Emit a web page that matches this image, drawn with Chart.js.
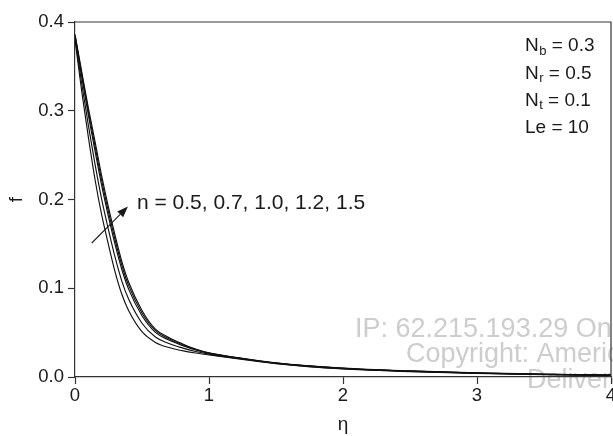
<!DOCTYPE html>
<html>
<head>
<meta charset="utf-8">
<script src="https://cdn.jsdelivr.net/npm/chart.js@4"></script>
<style>
html,body{margin:0;padding:0;background:#fff;}
#wrap{width:613px;height:436px;position:relative;}
</style>
</head>
<body>
<div id="wrap"><canvas id="c" width="613" height="436"></canvas></div>
<script>
// ---- data ----
const eta   = [0, 0.05, 0.1, 0.15, 0.2, 0.25, 0.3, 0.35, 0.4, 0.5, 0.6, 0.7, 0.8, 0.9, 1.0, 1.25, 1.5, 2.0, 2.5, 3.0, 3.5, 4.0];
const f_n05 = [0.3800, 0.3220, 0.2700, 0.2220, 0.1820, 0.1490, 0.1180, 0.0930, 0.0750, 0.0510, 0.0390, 0.0332, 0.0297, 0.0270, 0.0248, 0.0198, 0.0150, 0.0090, 0.0061, 0.0040, 0.0027, 0.0018];
const f_n07 = [0.3824, 0.3308, 0.2832, 0.2392, 0.1996, 0.1658, 0.1344, 0.1078, 0.0878, 0.0606, 0.0450, 0.0377, 0.0328, 0.0288, 0.0258, 0.0202, 0.0153, 0.0093, 0.0063, 0.0042, 0.0028, 0.0019];
const f_n10 = [0.3845, 0.3385, 0.2948, 0.2543, 0.2150, 0.1805, 0.1488, 0.1208, 0.0990, 0.0690, 0.0503, 0.0417, 0.0356, 0.0304, 0.0266, 0.0206, 0.0156, 0.0097, 0.0066, 0.0044, 0.0030, 0.0020];
const f_n12 = [0.3853, 0.3414, 0.2990, 0.2598, 0.2207, 0.1860, 0.1541, 0.1256, 0.1032, 0.0721, 0.0522, 0.0431, 0.0366, 0.0310, 0.0269, 0.0208, 0.0158, 0.0099, 0.0067, 0.0045, 0.0031, 0.0021];
const f_n15 = [0.3860, 0.3440, 0.3030, 0.2650, 0.2260, 0.1910, 0.1590, 0.1300, 0.1070, 0.0750, 0.0540, 0.0445, 0.0375, 0.0315, 0.0272, 0.0210, 0.0160, 0.0101, 0.0069, 0.0047, 0.0032, 0.0022];
const seriesNames  = ['n = 0.5', 'n = 0.7', 'n = 1.0', 'n = 1.2', 'n = 1.5'];
const seriesValues = [f_n05, f_n07, f_n10, f_n12, f_n15];
const xTicks = [0, 1, 2, 3, 4];
const yTicks = [0.0, 0.1, 0.2, 0.3, 0.4];
const annotationText = 'n = 0.5, 0.7, 1.0, 1.2, 1.5';
const paramLabels = [['N', 'b', ' = 0.3'], ['N', 'r', ' = 0.5'], ['N', 't', ' = 0.1'], ['Le', '', ' = 10']];
const watermark = ['IP: 62.215.193.29 On: Tue, 01 Jan', 'Copyright: American Scientific Publishers', 'Delivered by Ingenta'];

const FONT = '"Liberation Sans", Arial, Helvetica, sans-serif';
const INK = '#1a1a1a';

const datasets = seriesValues.map((vals, i) => ({
  label: seriesNames[i],
  data: eta.map((x, j) => ({x: x, y: vals[j]})),
  borderColor: '#111',
  borderWidth: 1.15,
  pointRadius: 0,
  fill: false,
  cubicInterpolationMode: 'monotone'
}));

const decor = {
  id: 'decor',
  beforeDraw(chart) {
    const ctx = chart.ctx;
    ctx.save();
    ctx.fillStyle = '#fff';
    ctx.fillRect(0, 0, chart.width, chart.height);
    ctx.font = '27px ' + FONT;
    ctx.fillStyle = '#cdcdcd';
    ctx.textBaseline = 'middle';
    ctx.textAlign = 'left';
    ctx.fillText(watermark[0], 355, 330);
    ctx.fillText(watermark[1], 406, 355);
    ctx.fillText(watermark[2], 527, 381);
    ctx.restore();
  },
  afterDraw(chart) {
    const ctx = chart.ctx, a = chart.chartArea;
    const xs = chart.scales.x, ys = chart.scales.y;
    ctx.save();
    // box
    ctx.strokeStyle = '#333';
    ctx.lineWidth = 1.2;
    ctx.beginPath();
    ctx.moveTo(a.left, a.top); ctx.lineTo(a.right, a.top); ctx.lineTo(a.right, a.bottom);
    ctx.stroke();
    // annotation text
    ctx.fillStyle = INK;
    ctx.font = '21px ' + FONT;
    ctx.textBaseline = 'middle';
    ctx.textAlign = 'left';
    ctx.fillText(annotationText, xs.getPixelForValue(0.462), ys.getPixelForValue(0.196));
    // arrow
    const x0 = xs.getPixelForValue(0.125), y0 = ys.getPixelForValue(0.151);
    const x1 = xs.getPixelForValue(0.395), y1 = ys.getPixelForValue(0.192);
    ctx.strokeStyle = INK; ctx.lineWidth = 1.1;
    const ang = Math.atan2(y1 - y0, x1 - x0);
    const hl = 11, hw = 4.2;
    const bx = x1 - hl * Math.cos(ang), by = y1 - hl * Math.sin(ang);
    ctx.beginPath(); ctx.moveTo(x0, y0); ctx.lineTo(bx, by); ctx.stroke();
    ctx.beginPath();
    ctx.moveTo(x1, y1);
    ctx.lineTo(bx + hw * Math.sin(ang), by - hw * Math.cos(ang));
    ctx.lineTo(bx - hw * Math.sin(ang), by + hw * Math.cos(ang));
    ctx.closePath(); ctx.fill();
    // parameter labels
    const px = 525;
    paramLabels.forEach((p, i) => {
      const y = 46 + i * 27.3;
      let x = px;
      ctx.textBaseline = 'middle';
      ctx.font = '19px ' + FONT;
      ctx.fillText(p[0], x, y);
      x += ctx.measureText(p[0]).width;
      if (p[1]) {
        ctx.font = '13px ' + FONT;
        ctx.fillText(p[1], x + 0.5, y + 5);
        x += ctx.measureText(p[1]).width + 0.5;
      }
      ctx.font = '19px ' + FONT;
      ctx.fillText(p[2], x, y);
    });
    ctx.restore();
  }
};

new Chart(document.getElementById('c'), {
  type: 'line',
  data: {datasets},
  options: {
    responsive: false,
    animation: false,
    events: [],
    layout: {padding: {left: 0, top: 22, right: 2, bottom: 0}},
    plugins: {legend: {display: false}, tooltip: {enabled: false}},
    scales: {
      x: {
        type: 'linear', min: 0, max: 4,
        afterBuildTicks: s => { s.ticks = xTicks.map(v => ({value: v})); },
        afterFit: s => { s.height = 59; s.paddingLeft = 0; s.paddingRight = 0; },
        grid: {drawOnChartArea: false, drawTicks: true, tickLength: 7, color: '#333', tickWidth: 1.2},
        border: {display: true, color: '#333', width: 1.2},
        ticks: {color: INK, font: {family: FONT, size: 18.5}, padding: 1, maxRotation: 0,
                callback: v => String(v)},
        title: {display: true, text: 'η', color: INK, font: {family: FONT, size: 19}, padding: {top: 0, bottom: 0}}
      },
      y: {
        type: 'linear', min: 0, max: 0.4,
        afterBuildTicks: s => { s.ticks = yTicks.map(v => ({value: v})); },
        afterFit: s => { s.width = 75; s.paddingTop = 0; s.paddingBottom = 0; },
        grid: {drawOnChartArea: false, drawTicks: true, tickLength: 7, color: '#333', tickWidth: 1.2},
        border: {display: true, color: '#333', width: 1.2},
        ticks: {color: INK, font: {family: FONT, size: 18.5}, padding: 4,
                callback: v => Number(v).toFixed(1)},
        title: {display: true, text: 'f', color: INK, font: {family: FONT, size: 19}, padding: {top: 5, bottom: 0}}
      }
    }
  },
  plugins: [decor]
});
</script>
</body>
</html>
